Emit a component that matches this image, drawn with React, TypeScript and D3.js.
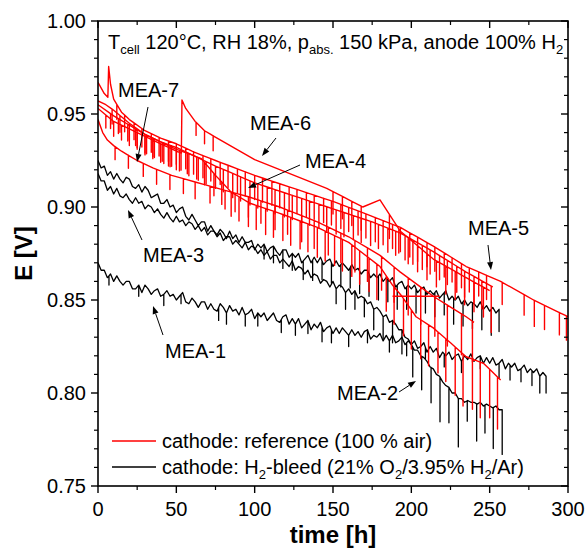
import React from 'react';
import * as d3 from 'd3';

const W = 588;
const H = 549;
const PLOT = { left: 98, right: 568, top: 21, bottom: 486 };
const FONT = '"Liberation Sans", Arial, Helvetica, sans-serif';

const xTickValues = [0, 50, 100, 150, 200, 250, 300];
const xMinorTickValues = [25, 75, 125, 175, 225, 275];
const yTickValues = [0.75, 0.8, 0.85, 0.9, 0.95, 1.0];
const yMinorTickValues = [0.76, 0.77, 0.78, 0.79, 0.81, 0.82, 0.83, 0.84, 0.86, 0.87, 0.88, 0.89, 0.91, 0.92, 0.93, 0.94, 0.96, 0.97, 0.98, 0.99];

type Pt = [number, number];

// ---- H2-bleed (black) MEAs: cell voltage read every 2 h ----
const SAMPLE_STEP_H = 2;
const mea1E = [
  0.870, 0.866, 0.866, 0.862, 0.864, 0.860, 0.863, 0.860, 0.858, 0.860,
  0.860, 0.856, 0.856, 0.858, 0.854, 0.858, 0.856, 0.853, 0.855, 0.856,
  0.852, 0.853, 0.855, 0.852, 0.853, 0.850, 0.852, 0.854, 0.849, 0.848,
  0.851, 0.849, 0.846, 0.849, 0.849, 0.845, 0.848, 0.845, 0.844, 0.848,
  0.846, 0.843, 0.847, 0.844, 0.845, 0.842, 0.846, 0.842, 0.843, 0.845,
  0.840, 0.843, 0.841, 0.843, 0.839, 0.841, 0.843, 0.839, 0.838, 0.841,
  0.842, 0.837, 0.840, 0.837, 0.840, 0.835, 0.837, 0.839, 0.834, 0.837,
  0.835, 0.838, 0.833, 0.835, 0.836, 0.832, 0.835, 0.832, 0.835, 0.833,
  0.831, 0.834, 0.831, 0.833, 0.830, 0.833, 0.834, 0.829, 0.831, 0.830,
  0.832, 0.828, 0.831, 0.828, 0.831, 0.827, 0.828, 0.830, 0.826, 0.828,
  0.826, 0.828, 0.824, 0.825, 0.827, 0.822, 0.825, 0.822, 0.824, 0.819,
  0.822, 0.820, 0.822, 0.818, 0.820, 0.821, 0.817, 0.820, 0.818, 0.821,
  0.817, 0.819, 0.820, 0.816, 0.819, 0.816, 0.819, 0.815, 0.816, 0.818,
  0.813, 0.816, 0.814, 0.816, 0.812, 0.813, 0.815, 0.811, 0.813, 0.811,
  0.813, 0.809, 0.811, 0.809,
];
const mea3E = [
  0.925, 0.921, 0.922, 0.917, 0.919, 0.915, 0.918, 0.915, 0.913, 0.916,
  0.915, 0.911, 0.910, 0.912, 0.908, 0.911, 0.909, 0.905, 0.906, 0.907,
  0.902, 0.902, 0.904, 0.900, 0.901, 0.897, 0.899, 0.900, 0.895, 0.893,
  0.896, 0.893, 0.890, 0.892, 0.892, 0.887, 0.890, 0.887, 0.885, 0.888,
  0.886, 0.883, 0.887, 0.883, 0.885, 0.881, 0.884, 0.881, 0.881, 0.882,
  0.877, 0.880, 0.878, 0.880, 0.876, 0.878, 0.879, 0.876, 0.874, 0.877,
  0.877, 0.873, 0.875, 0.873, 0.875, 0.870, 0.872, 0.874, 0.870, 0.873,
  0.870, 0.873, 0.869, 0.871, 0.872, 0.868, 0.871, 0.868, 0.870, 0.868,
  0.866, 0.869, 0.866, 0.867, 0.864, 0.866, 0.866, 0.862, 0.864, 0.862,
  0.864, 0.860, 0.862, 0.860, 0.862, 0.857, 0.859, 0.860, 0.856, 0.858,
  0.856, 0.858, 0.854, 0.856, 0.857, 0.853, 0.855, 0.853, 0.855, 0.851,
  0.853, 0.855, 0.850, 0.852, 0.850, 0.852, 0.848, 0.850, 0.847, 0.849,
  0.848, 0.846, 0.849, 0.845, 0.847, 0.844, 0.846, 0.843, 0.845,
];
const mea2E = [
  0.918, 0.914, 0.914, 0.909, 0.911, 0.907, 0.910, 0.906, 0.905, 0.907,
  0.904, 0.902, 0.905, 0.902, 0.903, 0.899, 0.901, 0.900, 0.897, 0.899,
  0.896, 0.894, 0.897, 0.894, 0.892, 0.895, 0.892, 0.893, 0.890, 0.892,
  0.891, 0.888, 0.890, 0.887, 0.889, 0.885, 0.887, 0.887, 0.884, 0.886,
  0.882, 0.884, 0.884, 0.880, 0.882, 0.880, 0.878, 0.881, 0.877, 0.879,
  0.878, 0.875, 0.877, 0.874, 0.876, 0.872, 0.874, 0.874, 0.870, 0.872,
  0.870, 0.868, 0.871, 0.866, 0.868, 0.867, 0.864, 0.866, 0.862, 0.864,
  0.863, 0.859, 0.861, 0.860, 0.857, 0.860, 0.856, 0.858, 0.857, 0.854,
  0.856, 0.853, 0.855, 0.851, 0.852, 0.851, 0.848, 0.849, 0.845, 0.846,
  0.844, 0.841, 0.842, 0.838, 0.839, 0.837, 0.834, 0.834, 0.830, 0.829,
  0.826, 0.823, 0.823, 0.820, 0.819, 0.817, 0.814, 0.813, 0.810, 0.809,
  0.806, 0.804, 0.803, 0.800, 0.800, 0.797, 0.797, 0.795, 0.796, 0.795,
  0.795, 0.794, 0.795, 0.793, 0.794, 0.793, 0.792, 0.793, 0.791, 0.791,
];
// downward spikes [time h, depth V]
const mea1Spikes: Pt[] = [
  [7, 0.005], [26, 0.006], [42, 0.006], [53, 0.005], [77, 0.007], [82, 0.006], [94, 0.006],
  [102, 0.007], [117, 0.007], [126, 0.006], [134, 0.007], [143, 0.008], [149, 0.007], [160, 0.006],
  [172, 0.007], [186, 0.006], [197, 0.007], [209, 0.006], [221, 0.007], [232, 0.006], [244, 0.007],
  [256, 0.008], [263, 0.008], [270, 0.007], [277, 0.008], [282, 0.009], [286, 0.009],
];
const mea3Spikes: Pt[] = [
  [106, 0.008], [112, 0.009], [118, 0.010], [124, 0.009], [131, 0.010], [137, 0.011], [143, 0.010],
  [149, 0.011], [155, 0.012], [161, 0.011], [167, 0.012], [173, 0.012], [179, 0.013], [185, 0.012],
  [191, 0.013], [197, 0.012], [203, 0.013], [209, 0.012], [215, 0.013], [221, 0.012], [227, 0.014],
  [233, 0.013], [239, 0.014], [245, 0.013], [251, 0.014], [256, 0.012],
];
const mea2Spikes: Pt[] = [
  [152, 0.008], [158, 0.009], [164, 0.010], [170, 0.010], [176, 0.011], [182, 0.012], [188, 0.012],
  [194, 0.013], [200.9, 0.016], [206.6, 0.018], [212.6, 0.019], [218.3, 0.024], [224, 0.019],
  [230, 0.026], [235.7, 0.011], [241.7, 0.020], [247, 0.015], [252.3, 0.022], [258, 0.024],
];

// ---- reference (red) MEAs: baseline [time h, E V] ----
const mea5Base: Pt[] = [
  [0, 0.967], [4, 0.961], [6.3, 0.959], [6.8, 0.9755], [8, 0.966], [10, 0.958], [15, 0.951],
  [20, 0.947], [30, 0.941], [40, 0.937], [50, 0.934], [60, 0.930], [75, 0.925], [100, 0.917],
  [125, 0.910], [150, 0.903], [175, 0.895], [193, 0.889], [214, 0.879], [235, 0.868],
  [257, 0.860], [278, 0.850], [300, 0.841],
];
const mea5Spikes: Pt[] = [
  [12, 0.008], [17, 0.009], [23, 0.009], [28, 0.010], [34, 0.010], [39, 0.010], [45, 0.011],
  [50, 0.011], [56, 0.011], [61, 0.012], [67, 0.012], [72, 0.012], [78, 0.012], [83, 0.012],
  [89, 0.013], [94, 0.013], [100, 0.013], [105, 0.013], [111, 0.013], [116, 0.013], [122, 0.013],
  [127, 0.013], [133, 0.013], [138, 0.013], [144, 0.013], [149, 0.013], [155, 0.013], [160, 0.013],
  [166, 0.013], [171, 0.013], [177, 0.013], [182, 0.013], [188, 0.013], [193, 0.013], [199, 0.013],
  [204, 0.013], [210, 0.013], [215, 0.013], [221, 0.013], [226, 0.013], [232, 0.013], [237, 0.013],
  [243, 0.013], [248, 0.013], [258, 0.012], [272, 0.011], [278.5, 0.014], [285, 0.013],
  [294.5, 0.012], [299, 0.013],
];
const meaRBase: Pt[] = [
  [0, 0.957], [5, 0.955], [10, 0.952], [20, 0.945], [30, 0.939], [40, 0.935], [50, 0.932],
  [60, 0.928], [75, 0.922], [100, 0.913], [125, 0.906], [150, 0.899], [175, 0.892],
  [193, 0.886], [214, 0.876], [235, 0.865], [252, 0.857],
];
const meaRSpikes: Pt[] = [
  [9, 0.008], [14, 0.009], [20, 0.009], [25, 0.010], [31, 0.010], [36, 0.010], [42, 0.011],
  [47, 0.011], [53, 0.011], [58, 0.012], [64, 0.012], [69, 0.012], [75, 0.012], [80, 0.012],
  [86, 0.013], [91, 0.013], [97, 0.013], [102, 0.013], [108, 0.013], [113, 0.013], [119, 0.013],
  [124, 0.013], [130, 0.013], [135, 0.013], [141, 0.013], [146, 0.013], [152, 0.013], [157, 0.013],
  [163, 0.013], [168, 0.013], [174, 0.013], [179, 0.013], [185, 0.013], [190, 0.013], [196, 0.013],
  [201, 0.013], [207, 0.013], [212, 0.013], [218, 0.013], [223, 0.013], [229, 0.014], [234, 0.014],
  [240, 0.014], [245, 0.015], [251, 0.025],
];
const mea6Base: Pt[] = [
  [0, 0.953], [10, 0.946], [20, 0.942], [30, 0.938], [40, 0.934], [50, 0.930], [53.2, 0.929],
  [53.6, 0.9575], [56, 0.953], [62, 0.946], [68, 0.941], [72, 0.939], [100, 0.9255],
  [146, 0.910], [169, 0.900], [180, 0.9038], [193, 0.887], [200, 0.882], [214, 0.872],
  [235, 0.862], [250, 0.855],
];
const mea6Spikes: Pt[] = [
  [5, 0.007], [10, 0.008], [15, 0.008], [20, 0.009], [25, 0.009], [30, 0.010], [35, 0.010],
  [40, 0.010], [45, 0.010], [50, 0.010], [62.6, 0.007], [68, 0.007], [73.5, 0.008],
  [150, 0.012], [156, 0.012], [162, 0.013], [168, 0.013], [186, 0.013], [192, 0.013],
  [198, 0.014], [204, 0.014], [210, 0.014], [216, 0.014], [222, 0.015], [228, 0.015],
  [234, 0.015], [240, 0.016], [246, 0.016],
];
const mea7Base: Pt[] = [
  [0, 0.947], [3, 0.940], [6, 0.936], [10, 0.933], [15, 0.930], [25, 0.925], [35, 0.921],
  [47, 0.917], [68, 0.912], [96, 0.9055], [116, 0.900], [140, 0.892], [160, 0.884],
  [180, 0.874], [193, 0.865], [214, 0.852], [235, 0.841], [240, 0.838],
];
const mea7Spikes: Pt[] = [
  [10.9, 0.007], [19.4, 0.007], [28.9, 0.007], [37.4, 0.008], [45.9, 0.008], [54.5, 0.008],
  [62, 0.009], [71.5, 0.009], [81.1, 0.010], [87.5, 0.010], [96, 0.011], [104, 0.012],
  [113, 0.013], [121, 0.013], [130, 0.014], [138, 0.015], [147, 0.015], [155, 0.016],
  [164, 0.017], [172, 0.018], [181, 0.018], [189, 0.019], [198, 0.020], [206, 0.020],
  [215, 0.021], [223, 0.022], [232, 0.022], [239, 0.022],
];
const mea4Base: Pt[] = [
  [0, 0.955], [10, 0.949], [20, 0.944], [30, 0.939], [40, 0.935], [50, 0.931], [60, 0.928],
  [66, 0.926], [75, 0.917], [85, 0.908], [97, 0.902], [116, 0.8966], [140, 0.889],
  [160, 0.881], [180, 0.868], [188, 0.858], [194, 0.852], [203, 0.841], [214, 0.835],
  [225, 0.827], [235, 0.8195], [246, 0.816], [257, 0.807],
];
const mea4Spikes: Pt[] = [
  [8, 0.008], [13, 0.008], [19, 0.009], [24, 0.009], [30, 0.010], [35, 0.010], [41, 0.010],
  [46, 0.011], [52, 0.011], [57, 0.011], [63, 0.012], [68, 0.012], [74, 0.012], [79, 0.012],
  [85, 0.013], [90, 0.013], [96, 0.013], [101, 0.013], [107, 0.014], [112, 0.014], [118, 0.014],
  [123, 0.015], [129, 0.015], [134, 0.015], [140, 0.016], [145, 0.016], [151, 0.016],
  [156, 0.017], [162, 0.017], [167, 0.018], [173, 0.018], [178, 0.019], [184, 0.019],
  [189, 0.020], [195, 0.020], [200, 0.021], [206, 0.021], [211, 0.022], [217, 0.022],
  [222, 0.023], [228, 0.026], [233, 0.028], [239, 0.027], [244, 0.030], [250, 0.026],
  [255, 0.028],
];
// short flat red trace near 0.852 V (t ≈ 188–218 h)
const mea4FlatBase: Pt[] = [[188, 0.852], [218, 0.852]];
const mea4FlatSpikes: Pt[] = [];

const x = d3.scaleLinear().domain([0, 300]).range([PLOT.left, PLOT.right]);
const y = d3.scaleLinear().domain([0.75, 1.0]).range([PLOT.bottom, PLOT.top]);

function sampled(values: number[]): Pt[] {
  return values.map((v, i) => [i * SAMPLE_STEP_H, v] as Pt);
}

function buildPath(base: Pt[], spikes: Pt[]): string {
  const interp = d3.scaleLinear().domain(base.map((d) => d[0])).range(base.map((d) => d[1]));
  type Ev = { t: number; e: number; k: number };
  const evs: Ev[] = base.map((d, i) => ({ t: d[0], e: d[1], k: i * 10 }));
  spikes.forEach(([t, dep], j) => {
    const e0 = interp(t);
    evs.push({ t, e: e0, k: 1e6 + j * 10 });
    evs.push({ t: t + 0.001, e: e0 - dep, k: 1e6 + j * 10 + 1 });
    evs.push({ t: t + 0.002, e: e0, k: 1e6 + j * 10 + 2 });
  });
  evs.sort((a, b) => a.t - b.t || a.k - b.k);
  const line = d3.line<Ev>().x((d) => x(d.t)).y((d) => y(d.e));
  return line(evs) || '';
}

const redSeries = [
  { base: mea5Base, spikes: mea5Spikes },
  { base: meaRBase, spikes: meaRSpikes },
  { base: mea6Base, spikes: mea6Spikes },
  { base: mea4Base, spikes: mea4Spikes },
  { base: mea4FlatBase, spikes: mea4FlatSpikes },
  { base: mea7Base, spikes: mea7Spikes },
];
const blackSeries = [
  { base: sampled(mea1E), spikes: mea1Spikes },
  { base: sampled(mea3E), spikes: mea3Spikes },
  { base: sampled(mea2E), spikes: mea2Spikes },
];

const Arrow = ({ x1, y1, x2, y2 }: { x1: number; y1: number; x2: number; y2: number }) => {
  const ang = Math.atan2(y2 - y1, x2 - x1);
  const L = 8, Wd = 3;
  const bx = x2 - L * Math.cos(ang);
  const by = y2 - L * Math.sin(ang);
  const p1 = [bx + Wd * Math.sin(ang), by - Wd * Math.cos(ang)];
  const p2 = [bx - Wd * Math.sin(ang), by + Wd * Math.cos(ang)];
  return (
    <g>
      <line x1={x1} y1={y1} x2={bx} y2={by} stroke="#000" strokeWidth={1} />
      <path d={`M${x2},${y2}L${p1[0]},${p1[1]}L${p2[0]},${p2[1]}Z`} fill="#000" />
    </g>
  );
};

export default function App() {
  const fs = 20;
  return (
    <svg width={W} height={H} style={{ position: 'absolute', left: 0, top: 0, background: '#fff' }} fontFamily={FONT}>
      <defs>
        <clipPath id="plotclip">
          <rect x={PLOT.left} y={PLOT.top} width={PLOT.right - PLOT.left} height={PLOT.bottom - PLOT.top} />
        </clipPath>
      </defs>
      <rect x={0} y={0} width={W} height={H} fill="#fff" />
      <g clipPath="url(#plotclip)" fill="none" strokeLinejoin="round">
        {blackSeries.map((s, i) => (
          <path key={'b' + i} d={buildPath(s.base, s.spikes)} stroke="#000" strokeWidth={1.3} />
        ))}
        {redSeries.map((s, i) => (
          <path key={'r' + i} d={buildPath(s.base, s.spikes)} stroke="#ff0000" strokeWidth={1.4} />
        ))}
      </g>
      <rect x={PLOT.left} y={PLOT.top} width={PLOT.right - PLOT.left} height={PLOT.bottom - PLOT.top} fill="none" stroke="#000" strokeWidth={1.6} />
      {xTickValues.map((t) => (
        <g key={'xt' + t}>
          <line x1={x(t)} x2={x(t)} y1={PLOT.bottom} y2={PLOT.bottom + 7} stroke="#000" strokeWidth={1.4} />
          <line x1={x(t)} x2={x(t)} y1={PLOT.top} y2={PLOT.top + 7} stroke="#000" strokeWidth={1.4} />
          <text x={x(t)} y={516} textAnchor="middle" fontSize={fs}>{t}</text>
        </g>
      ))}
      {xMinorTickValues.map((t) => (
        <g key={'xm' + t}>
          <line x1={x(t)} x2={x(t)} y1={PLOT.bottom} y2={PLOT.bottom + 4} stroke="#000" strokeWidth={1.2} />
          <line x1={x(t)} x2={x(t)} y1={PLOT.top} y2={PLOT.top + 4} stroke="#000" strokeWidth={1.2} />
        </g>
      ))}
      {yTickValues.map((v) => (
        <g key={'yt' + v}>
          <line x1={PLOT.left - 7} x2={PLOT.left} y1={y(v)} y2={y(v)} stroke="#000" strokeWidth={1.4} />
          <line x1={PLOT.right - 7} x2={PLOT.right} y1={y(v)} y2={y(v)} stroke="#000" strokeWidth={1.4} />
          <text x={86} y={y(v) + 7} textAnchor="end" fontSize={fs}>{v.toFixed(2)}</text>
        </g>
      ))}
      {yMinorTickValues.map((v) => (
        <g key={'ym' + v}>
          <line x1={PLOT.left - 4} x2={PLOT.left} y1={y(v)} y2={y(v)} stroke="#000" strokeWidth={1.2} />
          <line x1={PLOT.right - 4} x2={PLOT.right} y1={y(v)} y2={y(v)} stroke="#000" strokeWidth={1.2} />
        </g>
      ))}
      <text x={(PLOT.left + PLOT.right) / 2} y={543} textAnchor="middle" fontSize={24} fontWeight="bold">time [h]</text>
      <text transform={`translate(32,${(PLOT.top + PLOT.bottom) / 2}) rotate(-90)`} textAnchor="middle" fontSize={24} fontWeight="bold">E [V]</text>
      <text x={108} y={49} fontSize={fs}>
        T<tspan fontSize={13} dy={5}>cell</tspan>
        <tspan dy={-5}> 120°C, RH 18%, p</tspan>
        <tspan fontSize={13} dy={5}>abs.</tspan>
        <tspan dy={-5}> 150 kPa, anode 100% H</tspan>
        <tspan fontSize={13} dy={5}>2</tspan>
      </text>
      <text x={118} y={97} fontSize={fs}>MEA-7</text>
      <Arrow x1={148} y1={107} x2={137} y2={162} />
      <text x={250} y={130} fontSize={fs}>MEA-6</text>
      <Arrow x1={276} y1={138} x2={262} y2={156} />
      <text x={305} y={168} fontSize={fs}>MEA-4</text>
      <Arrow x1={300} y1={165} x2={248} y2={188} />
      <text x={143} y={262} fontSize={fs}>MEA-3</text>
      <Arrow x1={142} y1={240} x2={128} y2={210} />
      <text x={165} y={358} fontSize={fs}>MEA-1</text>
      <Arrow x1={163} y1={335} x2={153} y2={306} />
      <text x={468} y={235} fontSize={fs}>MEA-5</text>
      <Arrow x1={488} y1={245} x2={491} y2={270} />
      <text x={337} y={400} fontSize={fs}>MEA-2</text>
      <Arrow x1={399} y1={392} x2={416} y2={381} />
      <line x1={112} x2={156} y1={441} y2={441} stroke="#ff0000" strokeWidth={1.4} />
      <text x={162} y={448} fontSize={fs}>cathode: reference (100 % air)</text>
      <line x1={112} x2={156} y1={467} y2={467} stroke="#000" strokeWidth={1.4} />
      <text x={162} y={474} fontSize={fs}>
        cathode: H<tspan fontSize={13} dy={5}>2</tspan>
        <tspan dy={-5}>-bleed (21% O</tspan>
        <tspan fontSize={13} dy={5}>2</tspan>
        <tspan dy={-5}>/3.95% H</tspan>
        <tspan fontSize={13} dy={5}>2</tspan>
        <tspan dy={-5}>/Ar)</tspan>
      </text>
    </svg>
  );
}
